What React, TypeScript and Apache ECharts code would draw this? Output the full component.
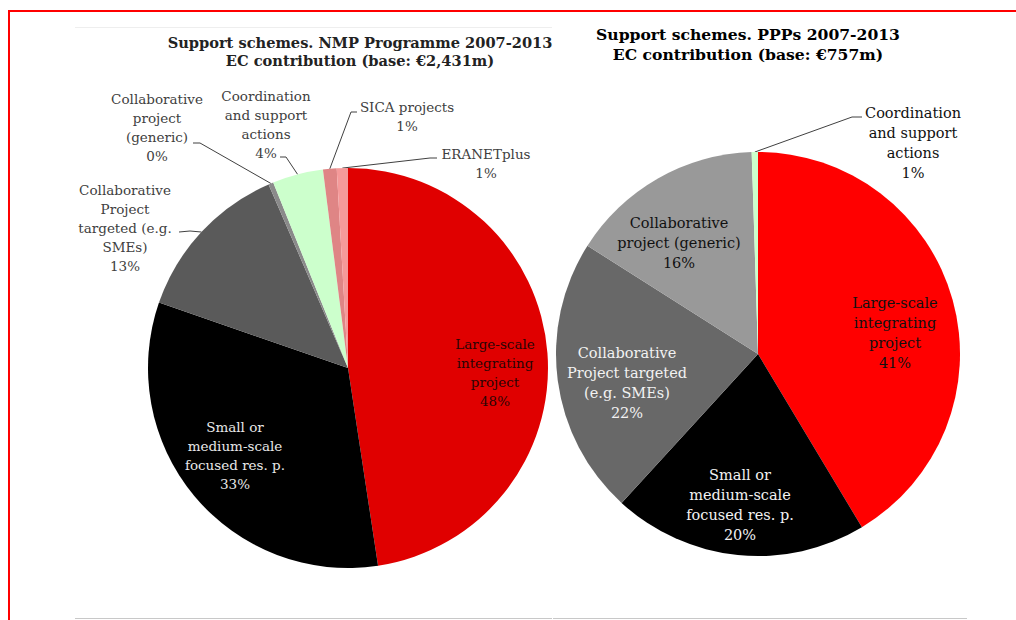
import React, { useEffect, useRef } from "react";
import * as echarts from "echarts";

// ---- data ----
const nmpCategories = [
  "Large-scale\nintegrating\nproject",
  "Small or\nmedium-scale\nfocused res. p.",
  "Collaborative\nProject\ntargeted (e.g.\nSMEs)",
  "Collaborative\nproject\n(generic)",
  "Coordination\nand support\nactions",
  "SICA projects",
  "ERANETplus",
];
const nmpValues = [47.6, 32.7, 13.2, 0.4, 4.1, 1.1, 0.9];

const pppCategories = [
  "Large-scale\nintegrating\nproject",
  "Small or\nmedium-scale\nfocused res. p.",
  "Collaborative\nProject targeted\n(e.g. SMEs)",
  "Collaborative\nproject (generic)",
  "Coordination\nand support\nactions",
];
const pppValues = [41.4, 20.4, 22.2, 15.5, 0.5];

const nmpTitle = "Support schemes. NMP Programme 2007-2013\nEC contribution (base: €2,431m)";
const pppTitle = "Support schemes. PPPs 2007-2013\nEC contribution (base: €757m)";

// ---- styles ----
const FONT = '"DejaVu Serif", "Liberation Serif", serif';
const nmpColors = ["#e00000", "#000000", "#5a5a5a", "#8a8a8a", "#ccffcc", "#df8585", "#f59a9a"];
const pppColors = ["#ff0000", "#000000", "#686868", "#999999", "#ccffcc"];
const nmpLabelColors = ["#2a0505", "#e8e8e8", "#404040", "#404040", "#404040", "#404040", "#404040"];
const nmpInside = [true, true, false, false, false, false, false];
const pppLabelColors = ["#111111", "#f2f2f2", "#f2f2f2", "#111111", "#111111"];
const pppInside = [true, true, true, true, false];

type Spot = { x: number; y: number; line?: number[][] };
const nmpSpots: Spot[] = [
  { x: 495, y: 372 },
  { x: 235, y: 455 },
  { x: 125, y: 228, line: [[190, 231], [179, 232]] },
  { x: 157, y: 127, line: [[200, 143], [193, 143]] },
  { x: 266, y: 124, line: [[286, 157], [280, 157]] },
  { x: 407, y: 116, line: [[351, 112], [357, 112]] },
  { x: 486, y: 163, line: [[430, 158], [437, 158]] },
];
const pppSpots: Spot[] = [
  { x: 895, y: 333 },
  { x: 740, y: 505 },
  { x: 627, y: 383 },
  { x: 679, y: 243 },
  { x: 913, y: 143, line: [[852, 117], [862, 117]] },
];

function makeLayout(spots: Spot[]) {
  return (params: any) => {
    const s = spots[params.dataIndex];
    const out: any = { x: s.x, y: s.y, align: "center", verticalAlign: "middle" };
    if (s.line && params.labelLinePoints) {
      out.labelLinePoints = [params.labelLinePoints[0], s.line[0], s.line[1]];
    }
    return out;
  };
}

function makeData(cats: string[], vals: number[], colors: string[], labelColors: string[], inside: boolean[], fontSize: number, lh: number) {
  return cats.map((name, i) => ({
    name,
    value: vals[i],
    itemStyle: { color: colors[i] },
    label: {
      position: inside[i] ? "inside" : "outside",
      color: labelColors[i],
      fontSize,
      lineHeight: lh,
      fontFamily: FONT,
      align: "center",
    },
    labelLine: { show: !inside[i] },
  }));
}

export default function App() {
  const ref = useRef<HTMLDivElement>(null);
  useEffect(() => {
    document.body.style.margin = "0";
    const chart = echarts.init(ref.current!, undefined, { renderer: "svg" });
    chart.setOption({
      animation: false,
      backgroundColor: "#ffffff",
      graphic: [
        { type: "line", shape: { x1: 9, y1: 11, x2: 1016, y2: 11 }, style: { stroke: "#ff0000", lineWidth: 2 } },
        { type: "line", shape: { x1: 9, y1: 10, x2: 9, y2: 620 }, style: { stroke: "#ff0000", lineWidth: 2 } },
        { type: "line", shape: { x1: 75, y1: 27.5, x2: 552, y2: 27.5 }, style: { stroke: "#eeeeee", lineWidth: 1 } },
        { type: "line", shape: { x1: 75, y1: 618.5, x2: 552, y2: 618.5 }, style: { stroke: "#c8c8c8", lineWidth: 1 } },
        { type: "line", shape: { x1: 553, y1: 618.5, x2: 967, y2: 618.5 }, style: { stroke: "#c8c8c8", lineWidth: 1 } },
        {
          type: "text",
          x: 360,
          y: 51,
          style: { text: nmpTitle, align: "center", verticalAlign: "middle", font: `bold 14.6px ${FONT}`, lineHeight: 18, fill: "#222222" },
        },
        {
          type: "text",
          x: 748,
          y: 44,
          style: { text: pppTitle, align: "center", verticalAlign: "middle", font: `bold 15.6px ${FONT}`, lineHeight: 20, fill: "#000000" },
        },
      ],
      series: [
        {
          type: "pie",
          center: [348, 368],
          radius: 200,
          startAngle: 90,
          clockwise: true,
          percentPrecision: 0,
          avoidLabelOverlap: false,
          label: { formatter: "{b}\n{d}%" },
          labelLine: { lineStyle: { color: "#404040", width: 1 } },
          labelLayout: makeLayout(nmpSpots),
          itemStyle: { borderWidth: 0 },
          emphasis: { disabled: true },
          data: makeData(nmpCategories, nmpValues, nmpColors, nmpLabelColors, nmpInside, 13.5, 19),
        },
        {
          type: "pie",
          center: [758, 354],
          radius: 202,
          startAngle: 90,
          clockwise: true,
          percentPrecision: 0,
          avoidLabelOverlap: false,
          label: { formatter: "{b}\n{d}%" },
          labelLine: { lineStyle: { color: "#404040", width: 1 } },
          labelLayout: makeLayout(pppSpots),
          itemStyle: { borderWidth: 0 },
          emphasis: { disabled: true },
          data: makeData(pppCategories, pppValues, pppColors, pppLabelColors, pppInside, 14.5, 20),
        },
      ],
    });
    return () => chart.dispose();
  }, []);
  return <div ref={ref} style={{ position: "absolute", left: 0, top: 0, width: 1016, height: 620 }} />;
}
